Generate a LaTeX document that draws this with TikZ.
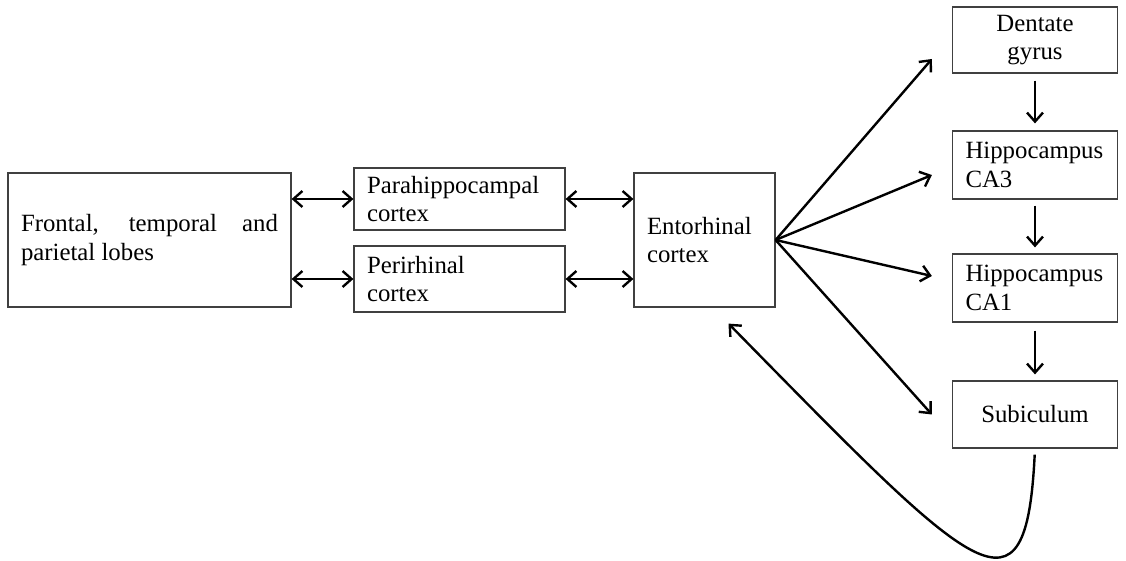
\documentclass[tikz,border=0pt]{standalone}
\usepackage{fontspec}
\setmainfont{Liberation Serif}
\usetikzlibrary{arrows.meta,calc}

\tikzset{
  box/.style={draw=black!75, line width=0.6pt, inner xsep=6.5pt, inner ysep=0pt,
    font=\fontsize{12.4}{14.4}\selectfont},
  lbox/.style={box, align=left},
  cbox/.style={box, align=center},
  link/.style={line width=1.2pt, -{Straight Barb[length=4.5pt,width=8pt,line width=1.2pt]}},
  dbl/.style={line width=1.2pt, {Straight Barb[length=4.5pt,width=8pt,line width=1.2pt]}-{Straight Barb[length=4.5pt,width=8pt,line width=1.2pt]}}
}

\begin{document}
\begin{tikzpicture}[x=0.5pt,y=-0.5pt]
	\useasboundingbox (0,0) rectangle (1126,561);

	% left side
	\node[box, align=justify, text width=128.5pt, minimum height=67pt] (lobes) at (149.5,240)
		{Frontal, temporal and parietal lobes};
	\node[lbox, text width=92.5pt, minimum height=31pt] (para) at (459.5,199)
		{Parahippocampal\\cortex};
	\node[lbox, text width=92.5pt, minimum height=33pt] (peri) at (459.5,279)
		{Perirhinal\\cortex};
	\node[lbox, text width=57.5pt, minimum height=67pt] (ento) at (704.5,240)
		{Entorhinal\\cortex};

	% hippocampal column
	\node[cbox, text width=69.5pt, minimum height=33pt] (dentate) at (1035,40)
		{Dentate\\gyrus};
	\node[lbox, text width=69.5pt, minimum height=34pt] (ca3) at (1035,165)
		{Hippocampus\\CA3};
	\node[lbox, text width=69.5pt, minimum height=34pt] (ca1) at (1035,288)
		{Hippocampus\\CA1};
	\node[cbox, text width=69.5pt, minimum height=33.5pt] (sub) at (1035,414.5)
		{Subiculum};

	% two-way links
	\draw[dbl] (lobes.east |- para.west) -- (para.west);
	\draw[dbl] (lobes.east |- peri.west) -- (peri.west);
	\draw[dbl] (para.east) -- (ento.west |- para.east);
	\draw[dbl] (peri.east) -- (ento.west |- peri.east);

	% entorhinal outputs
	\draw[link] (ento.east) -- ($(dentate.west)+(-20,19)$);
	\draw[link] (ento.east) -- ($(ca3.west)+(-20,10)$);
	\draw[link] (ento.east) -- ($(ca1.west)+(-20,-12)$);
	\draw[link] (ento.east) -- ($(sub.west)+(-20,0)$);

	% trisynaptic chain
	\draw[link, shorten <=3.5pt, shorten >=3.5pt] (dentate.south) -- (ca3.north);
	\draw[link, shorten <=3pt, shorten >=3pt] (ca3.south) -- (ca1.north);
	\draw[link, shorten <=4pt, shorten >=3pt] (ca1.south) -- (sub.north);

	% return path
	\draw[link, shorten <=3pt] (sub.south) .. controls (1026,630) and (978,578) .. ($(ento.south)+(24,16)$);
\end{tikzpicture}
\end{document}
